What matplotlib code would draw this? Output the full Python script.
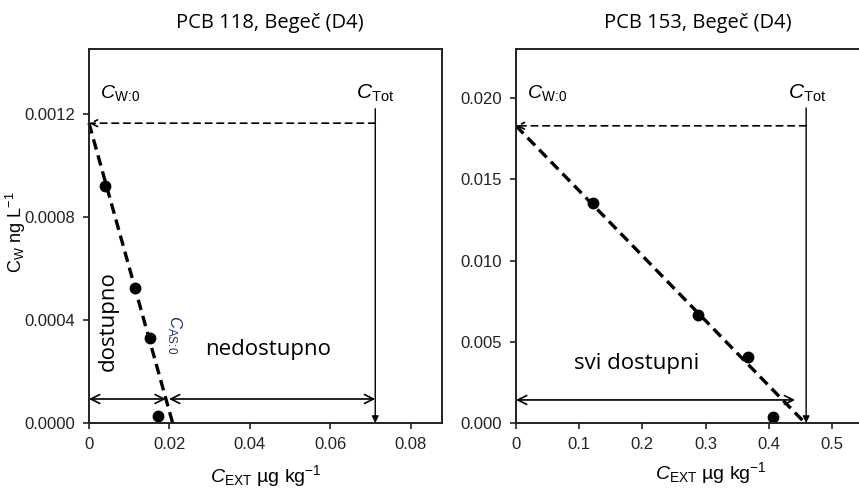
import numpy as np
import matplotlib
matplotlib.use("Agg")
import matplotlib.pyplot as plt

plt.rcParams["font.family"] = ["Liberation Sans", "DejaVu Sans"]
plt.rcParams["mathtext.fontset"] = "custom"
plt.rcParams["mathtext.rm"] = "Liberation Sans"
plt.rcParams["mathtext.it"] = "Liberation Sans:italic"

# PCB 118 (left panel)
x118 = [0.00405, 0.0114, 0.0152, 0.0171]
y118 = [0.000922, 0.000523, 0.000331, 0.0000285]
cw0_118 = 0.001164   # C_W:0 intercept
cas0_118 = 0.0208    # C_AS:0 (x-intercept of fit)
ctot_118 = 0.0712
arrow_y_118 = 0.0000932
xticks_118 = [0, 0.02, 0.04, 0.06, 0.08]
xtl_118 = ["0", "0.02", "0.04", "0.06", "0.08"]
yticks_118 = [0, 0.0004, 0.0008, 0.0012]
ytl_118 = ["0.0000", "0.0004", "0.0008", "0.0012"]

# PCB 153 (right panel)
x153 = [0.1223, 0.2875, 0.3676, 0.4072]
y153 = [0.01353, 0.00665, 0.00408, 0.00035]
cw0_153 = 0.0183
cas0_153 = 0.4573
ctot_153 = 0.459
arrow_y_153 = 0.00142
arrow_end_153 = 0.4415
xticks_153 = [0, 0.1, 0.2, 0.3, 0.4, 0.5]
xtl_153 = ["0", "0.1", "0.2", "0.3", "0.4", "0.5"]
yticks_153 = [0, 0.005, 0.010, 0.015, 0.020]
ytl_153 = ["0.000", "0.005", "0.010", "0.015", "0.020"]

W, H = 859, 493
fig = plt.figure(figsize=(W / 100, H / 100), dpi=100)


def px_axes(x0, x1, y0, y1):
    return fig.add_axes([x0 / W, 1 - y1 / H, (x1 - x0) / W, (y1 - y0) / H])


def style(ax, xt, xtl, yt, ytl):
    for s in ax.spines.values():
        s.set_linewidth(1.4)
        s.set_color("#222222")
    ax.set_xticks(xt)
    ax.set_xticklabels(xtl)
    ax.set_yticks(yt)
    ax.set_yticklabels(ytl)
    ax.tick_params(direction="out", length=4, width=1.2, labelsize=12,
                   colors="#222222", pad=6)


xlab = r"$\mathit{C}_{\mathrm{EXT}}$ µg kg$^{-1}$"
cw0_lab = r"$\mathit{C}_{\mathrm{W}\!:\!\mathrm{0}}$"
ctot_lab = r"$\mathit{C}_{\mathrm{Tot}}$"
cas0_lab = r"$\mathit{C}_{\mathrm{AS}\!:\!\mathrm{0}}$"
hum = ["Open Sans", "DejaVu Sans"]

# ---------- left panel ----------
ax = px_axes(89, 442, 49, 423)
ax.set_xlim(0, 0.0878)
ax.set_ylim(0, 0.001452)
style(ax, xticks_118, xtl_118, yticks_118, ytl_118)
ax.plot([0, cas0_118], [cw0_118, 0], color="black", lw=2.4, ls=(0, (3.2, 1.8)),
        clip_on=False)
ax.plot(x118, y118, "o", color="black", ms=7.5)
ax.annotate("", xy=(0, cw0_118), xytext=(ctot_118, cw0_118),
            arrowprops=dict(arrowstyle="->", lw=1.2, ls=(0, (4, 3)),
                            shrinkA=0, shrinkB=0, mutation_scale=12))
ax.annotate("", xy=(ctot_118, 0), xytext=(ctot_118, 0.00122),
            arrowprops=dict(arrowstyle="-|>", lw=1.0, color="black",
                            shrinkA=0, shrinkB=0, mutation_scale=10))
ax.annotate("", xy=(0, arrow_y_118), xytext=(0.0191, arrow_y_118),
            arrowprops=dict(arrowstyle="<->", lw=1.2, shrinkA=0, shrinkB=0,
                            mutation_scale=16))
ax.annotate("", xy=(0.0199, arrow_y_118), xytext=(ctot_118, arrow_y_118),
            arrowprops=dict(arrowstyle="<->", lw=1.2, shrinkA=0, shrinkB=0,
                            mutation_scale=16))
ax.text(0.0027, 0.00128, cw0_lab, fontsize=14, va="center")
ax.text(0.0665, 0.00128, ctot_lab, fontsize=15, va="center")
ax.text(0.0047, 0.000395, "dostupno", family=hum, fontsize=16, rotation=90,
        ha="center", va="center")
ax.text(0.0213, 0.000342, cas0_lab, fontsize=12,
        rotation=270, ha="center", va="center", color="#23306b")
ax.text(0.0445, 0.000285, "nedostupno", family=hum, fontsize=16,
        ha="center", va="center")
ax.set_xlabel(xlab, fontsize=14, labelpad=8)
ax.set_ylabel(r"C$_{\mathrm{W}}$ ng L$^{-1}$", fontsize=13)
ax.yaxis.set_label_coords((28 - 89) / 353, 0.51)

# ---------- right panel ----------
ax2 = px_axes(516, 870, 49, 423)
ax2.set_xlim(0, 0.56)
ax2.set_ylim(0, 0.02303)
style(ax2, xticks_153, xtl_153, yticks_153, ytl_153)
ax2.plot([0, cas0_153], [cw0_153, 0], color="black", lw=2.4, ls=(0, (3.2, 1.8)),
         clip_on=False)
ax2.plot(x153, y153, "o", color="black", ms=7.5)
ax2.annotate("", xy=(0, cw0_153), xytext=(ctot_153, cw0_153),
             arrowprops=dict(arrowstyle="->", lw=1.2, ls=(0, (4, 3)),
                             shrinkA=0, shrinkB=0, mutation_scale=12))
ax2.annotate("", xy=(ctot_153, 0), xytext=(ctot_153, 0.0194),
             arrowprops=dict(arrowstyle="-|>", lw=1.0, color="black",
                             shrinkA=0, shrinkB=0, mutation_scale=10))
ax2.annotate("", xy=(0, arrow_y_153), xytext=(arrow_end_153, arrow_y_153),
             arrowprops=dict(arrowstyle="<->", lw=1.2, shrinkA=0, shrinkB=0,
                             mutation_scale=16))
ax2.text(0.017, 0.0203, cw0_lab, fontsize=14, va="center")
ax2.text(0.43, 0.0203, ctot_lab, fontsize=15, va="center")
ax2.text(0.191, 0.00368, "svi dostupni", family=hum, fontsize=16,
         ha="center", va="center")
ax2.set_xlabel(xlab, fontsize=14, labelpad=8)
ax2.xaxis.set_label_coords((711 - 516) / (870 - 516), -0.1)

# titles
fig.text(270 / W, 1 - 23 / H, "PCB 118, Begeč (D4)", family=hum, fontsize=14.5,
         ha="center", va="center")
fig.text(698 / W, 1 - 23 / H, "PCB 153, Begeč (D4)", family=hum, fontsize=14.5,
         ha="center", va="center")

fig.savefig("out.png", dpi=100)
